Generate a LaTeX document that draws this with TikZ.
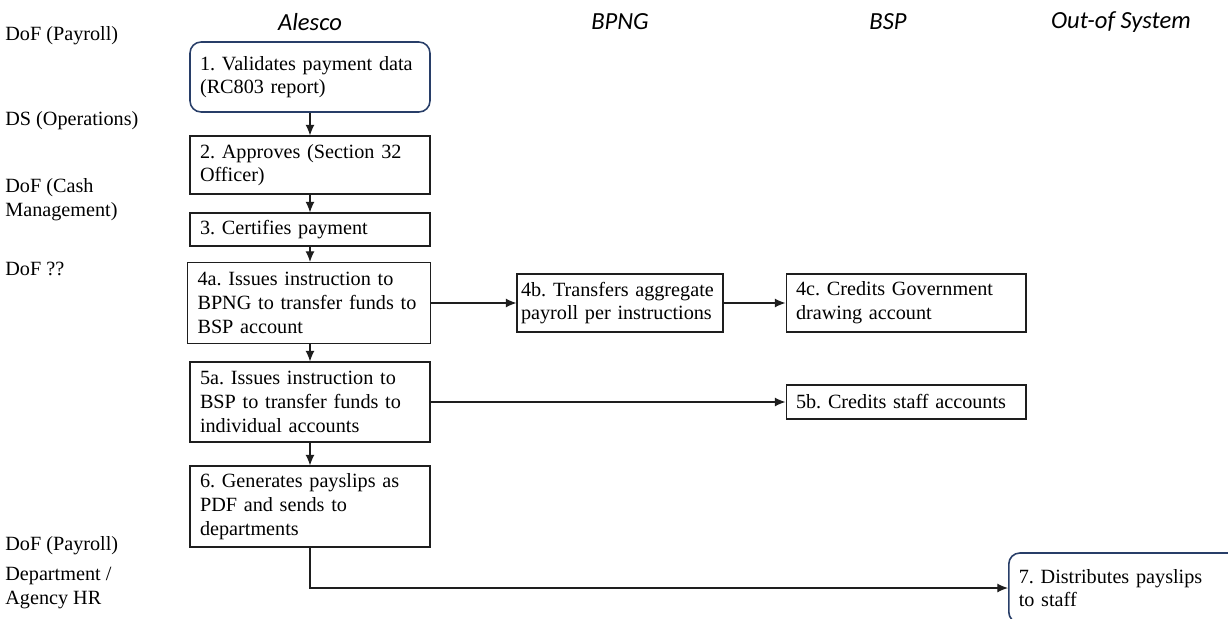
\documentclass[tikz,border=0pt]{standalone}
\usepackage{fontspec}
\setmainfont{Liberation Serif}
\newfontfamily\headfont{Carlito}
\usepackage{tikz}
\usetikzlibrary{arrows.meta, positioning}
\definecolor{roundcolor}{RGB}{40, 62, 104}
\definecolor{linecolor}{RGB}{30, 30, 30}
\frenchspacing

\begin{document}
\begin{tikzpicture}[x=0.02cm, y=-0.02cm,
    stepbox/.style={draw=linecolor, line width=0.6pt, align=left, inner sep=0pt, inner xsep=0.2cm,
        text width=4.4cm, font=\fontsize{11.5}{13.5}\selectfont},
    roundbox/.style={stepbox, draw=roundcolor, line width=0.9pt, rounded corners=0.22cm},
    lane/.style={font=\headfont\itshape\fontsize{14}{16}\selectfont},
    role/.style={anchor=west, align=left, inner sep=0pt, font=\fontsize{11.5}{13.5}\selectfont},
    flow/.style={-{Latex[length=6pt, width=5pt]}, line width=0.6pt, linecolor}]
    \useasboundingbox (0,0) rectangle (1228,619);

    % Lane headings
    \node[lane] (hdalesco) at (310, 22) {Alesco};
    \node[lane] (hdbpng) at (620, 22) {BPNG};
    \node[lane] (hdbsp) at (888, 22) {BSP};
    \node[lane] (hdout) at (1121, 22) {Out-of System};

    % Roles
    \node[role] (rlpay) at (5, 36) {DoF (Payroll)};
    \node[role] (rlops) at (5, 121) {DS (Operations)};
    \node[role] (rlcash) at (5, 200) {DoF (Cash\\Management)};
    \node[role] (rldof) at (5, 269) {DoF ??};
    \node[role] (rlpaytwo) at (5, 546) {DoF (Payroll)};
    \node[role] (rlhr) at (5, 588) {Department /\\Agency HR};

    % Steps
    \node[roundbox, minimum height=1.4cm] (validate) at (310, 77) {1. Validates payment data\\(RC803 report)};
    \node[stepbox, minimum height=1.16cm] (approve) at (310, 165) {2. Approves (Section 32\\Officer)};
    \node[stepbox, minimum height=0.66cm] (certify) at (310, 229.5) {3. Certifies payment};
    \node[stepbox, minimum height=1.62cm, text width=4.46cm] (instrbpng) at (309, 303) {4a. Issues instruction to\\BPNG to transfer funds to\\BSP account};
    \node[stepbox, minimum height=1.6cm] (instrbsp) at (310, 402) {5a. Issues instruction to\\BSP to transfer funds to\\individual accounts};
    \node[stepbox, minimum height=1.62cm] (payslips) at (310, 506.5) {6. Generates payslips as\\PDF and sends to\\departments};

    \node[stepbox, minimum height=1.16cm, text width=3.96cm, inner xsep=0.08cm] (transfer) at (620, 303) {4b. Transfers aggregate\\payroll per instructions};
    \node[stepbox, minimum height=1.16cm] (creditgov) at (906, 303) {4c. Credits Government\\drawing account};
    \node[stepbox, minimum height=0.68cm] (creditstaff) at (906, 402) {5b. Credits staff accounts};

    \node[roundbox, minimum height=1.4cm, text width=4.3cm, anchor=west] (distribute) at (1008, 588) {7. Distributes payslips\\to staff};

    % Connectors
    \draw[flow] (validate) -- (approve);
    \draw[flow] (approve) -- (certify);
    \draw[flow] (certify) -- (instrbpng.north -| certify.south);
    \draw[flow] (instrbpng.south -| instrbsp.north) -- (instrbsp);
    \draw[flow] (instrbsp) -- (payslips);
    \draw[flow] (instrbpng) -- (transfer);
    \draw[flow] (transfer) -- (creditgov);
    \draw[flow] (instrbsp) -- (creditstaff);
    \draw[flow] (payslips) |- (distribute);
\end{tikzpicture}
\end{document}
